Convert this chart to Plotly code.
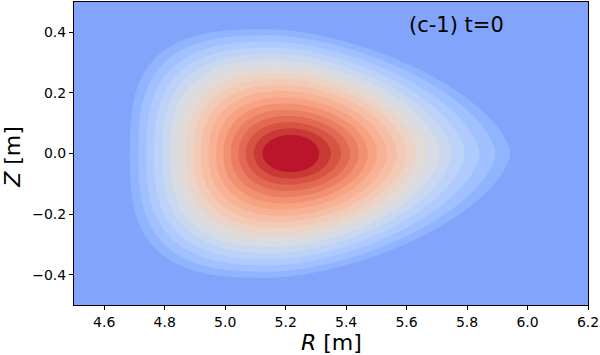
import numpy as np
import plotly.graph_objects as go

# ---- data -----------------------------------------------------------------
# Contour edges, ordered from the outermost (edge of the background) inwards.
# Mid-plane (Z=0) crossings of each contour, in metres
R_LEFT = [4.685, 4.713, 4.739, 4.765, 4.792, 4.818, 4.844, 4.871, 4.895,
          4.920, 4.945, 4.970, 4.994, 5.019, 5.044, 5.068, 5.095, 5.123]
R_RIGHT = [5.943, 5.894, 5.841, 5.792, 5.749, 5.709, 5.670, 5.633, 5.600,
           5.568, 5.535, 5.502, 5.472, 5.442, 5.413, 5.383, 5.350, 5.311]
# Half-height of each contour and the R at which it is reached
Z_TOP = [0.410, 0.390, 0.369, 0.349, 0.328, 0.308, 0.287, 0.267, 0.246,
         0.226, 0.206, 0.185, 0.165, 0.144, 0.124, 0.103, 0.083, 0.062]
R_TOP = [5.150, 5.154, 5.158, 5.162, 5.166, 5.170, 5.174, 5.178, 5.182,
         5.186, 5.190, 5.194, 5.198, 5.202, 5.206, 5.209, 5.213, 5.217]
# Shape exponents of the inboard / outboard halves of each contour
P_LEFT = [3.0, 2.9, 2.8, 2.75, 2.7, 2.65, 2.6, 2.5, 2.45,
          2.4, 2.35, 2.3, 2.25, 2.2, 2.15, 2.1, 2.05, 2.0]
P_RIGHT = [1.60, 1.62, 1.64, 1.67, 1.69, 1.71, 1.74, 1.76, 1.78,
           1.81, 1.83, 1.85, 1.88, 1.90, 1.92, 1.95, 1.97, 2.0]
AXIS_R = 5.217

# Colour of each filled band: coolwarm position, from the core outwards
BAND_CMAP_POS = list(np.round(np.linspace(0.985, 0.22, 19), 4))

X_TICKS = [4.6, 4.8, 5.0, 5.2, 5.4, 5.6, 5.8, 6.0, 6.2]
X_TICK_TEXT = ["4.6", "4.8", "5.0", "5.2", "5.4", "5.6", "5.8", "6.0", "6.2"]
Y_TICKS = [-0.4, -0.2, 0.0, 0.2, 0.4]
Y_TICK_TEXT = ["\u22120.4", "\u22120.2", "0.0", "0.2", "0.4"]
PANEL_LABEL = "(c-1) t=0"

# ---- coolwarm colormap (Moreland table) -----------------------------------
CW = [(59, 76, 192), (68, 90, 204), (77, 104, 215), (87, 117, 225),
      (98, 130, 234), (108, 142, 241), (119, 154, 247), (130, 165, 251),
      (141, 176, 254), (152, 185, 255), (163, 194, 255), (174, 201, 253),
      (184, 208, 249), (194, 213, 244), (204, 217, 238), (213, 219, 230),
      (221, 221, 221), (229, 216, 209), (236, 211, 197), (241, 204, 185),
      (245, 196, 173), (247, 187, 160), (247, 177, 148), (247, 166, 135),
      (244, 154, 123), (241, 141, 111), (236, 127, 99), (229, 112, 88),
      (222, 96, 77), (213, 80, 66), (203, 62, 56), (192, 40, 47),
      (180, 4, 38)]
CW = np.array(CW, dtype=float)
CW_X = np.linspace(0, 1, len(CW))


def coolwarm(t):
    return "rgb(%d,%d,%d)" % tuple(
        int(round(np.interp(t, CW_X, CW[:, i]))) for i in range(3))


# ---- build a field whose iso-lines are the contours above -----------------
n_edges = len(R_LEFT)
u_nodes = np.arange(n_edges + 1) / n_edges  # 0 = magnetic axis, 1 = outer edge


def nodes(vals, axis_val):
    return np.array([axis_val] + list(vals[::-1]), dtype=float)


NODE = {
    "rl": nodes(R_LEFT, AXIS_R),
    "rr": nodes(R_RIGHT, AXIS_R),
    "zt": nodes(Z_TOP, 0.0),
    "rt": nodes(R_TOP, AXIS_R),
    "pl": nodes(P_LEFT, 2.0),
    "pr": nodes(P_RIGHT, 2.0),
}


def param(key, u, extrap=True):
    v = NODE[key]
    out = np.interp(u, u_nodes, v)
    if extrap:
        slope = (v[-1] - v[-2]) / (u_nodes[-1] - u_nodes[-2])
        out = np.where(u > 1, v[-1] + (u - 1) * slope, out)
    return out


def inside(u, R, Z):
    rl = param("rl", u)
    rr = param("rr", u)
    zt = np.maximum(param("zt", u), 1e-9)
    rt = param("rt", u)
    pl = param("pl", u, extrap=False)
    pr = param("pr", u, extrap=False)
    h = np.abs(Z) / zt
    ok = h <= 1
    hc = np.clip(h, 0, 1)
    gl = np.clip(1 - hc ** pl, 0, None) ** (1 / pl)
    gr = np.clip(1 - hc ** pr, 0, None) ** (1 / pr)
    left = rt - (rt - rl) * gl
    right = rt + (rr - rt) * gr
    return ok & (R >= left) & (R <= right)


R = np.linspace(4.5, 6.2, 521)
Z = np.linspace(-0.5, 0.5, 321)
RR, ZZ = np.meshgrid(R, Z)
lo = np.zeros_like(RR)
hi = np.full_like(RR, 2.0)
for _ in range(40):
    mid = 0.5 * (lo + hi)
    ins = inside(mid, RR, ZZ)
    hi = np.where(ins, mid, hi)
    lo = np.where(ins, lo, mid)
V = 0.5 * (lo + hi) * n_edges  # contour k sits at V = n_edges - k

colors = [coolwarm(t) for t in BAND_CMAP_POS]
nc = n_edges
colorscale = [[i / nc, colors[i]] for i in range(nc + 1)]

fig = go.Figure(go.Contour(
    x=R, y=Z, z=V,
    autocontour=False,
    contours=dict(start=1, end=nc, size=1, coloring="fill", showlines=False),
    colorscale=colorscale,
    line=dict(width=0),
    showscale=False,
    hoverinfo="skip",
))

FONT = "DejaVu Sans"
axis_common = dict(
    showline=True, mirror=True, linecolor="black", linewidth=1,
    ticks="outside", ticklen=4, tickwidth=1, tickcolor="black",
    showgrid=False, zeroline=False, ticklabeloverflow="allow",
    tickfont=dict(family=FONT, size=14, color="black"),
)
fig.update_xaxes(range=[4.5, 6.2], tickvals=X_TICKS, ticktext=X_TICK_TEXT,
                 **axis_common)
fig.update_yaxes(range=[-0.5, 0.5], tickvals=Y_TICKS, ticktext=Y_TICK_TEXT,
                 **axis_common)

fig.update_layout(
    width=600, height=355,
    margin=dict(l=74, r=10, t=1, b=50),
    paper_bgcolor="white", plot_bgcolor="white",
    font=dict(family=FONT, color="black"),
    annotations=[
        dict(text=PANEL_LABEL, xref="paper", yref="paper", x=0.744, y=0.924,
             showarrow=False, xanchor="center", yanchor="middle",
             font=dict(family=FONT, size=21, color="black")),
        dict(text="<i>R</i> [m]", xref="paper", yref="paper",
             x=0.5, y=-0.125, showarrow=False,
             xanchor="center", yanchor="middle",
             font=dict(family=FONT, size=22, color="black")),
        dict(text="<i>Z</i> [m]", xref="paper", yref="paper",
             x=-0.12, y=0.49, showarrow=False, textangle=-90,
             xanchor="center", yanchor="middle",
             font=dict(family=FONT, size=22, color="black")),
    ],
)

fig.write_html("out.html",
               config={"displayModeBar": False},
               post_script="document.body.style.margin='0';"
                           "document.body.style.overflow='hidden';")
